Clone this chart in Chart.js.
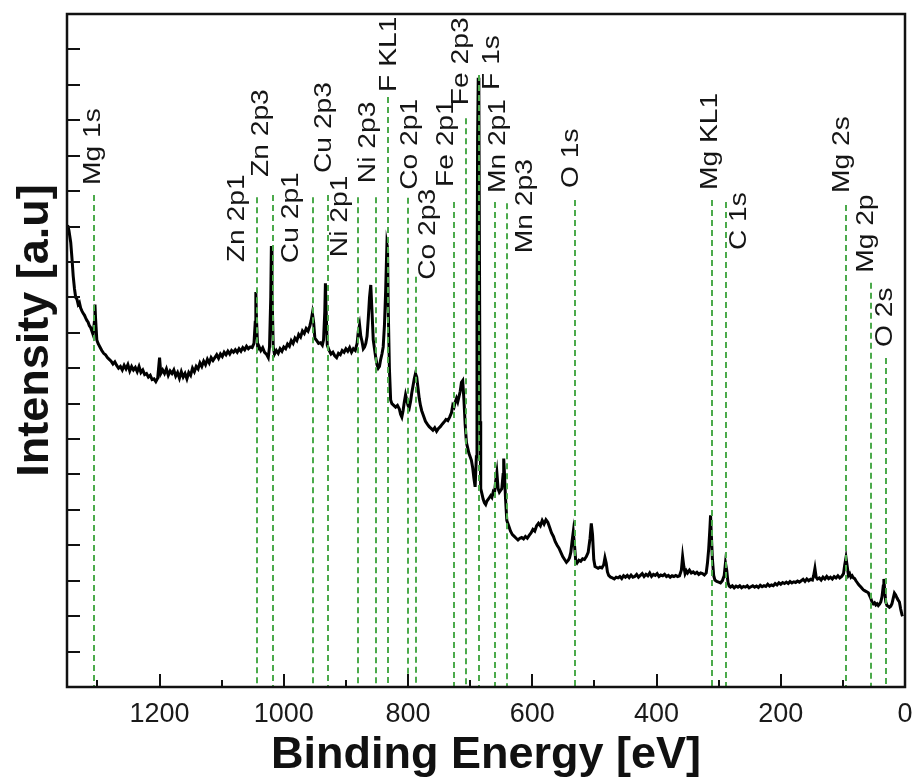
<!DOCTYPE html>
<html>
<head>
<meta charset="utf-8">
<script src="https://cdn.jsdelivr.net/npm/chart.js@4.4.0/dist/chart.umd.min.js"></script>
<style>
  html, body { margin: 0; padding: 0; background: #fff; }
  #wrap { width: 915px; height: 780px; }
</style>
</head>
<body>
<div id="wrap"><canvas id="xpsChart" width="915" height="780"></canvas></div>
<script>
// survey spectrum (binding energy in eV, intensity in arbitrary units)
const bindingEnergy = [
  1348, 1346, 1343, 1341, 1339, 1337, 1335, 1333, 1331, 1329, 1327, 1325, 1323, 1321, 1319, 1317, 1315, 1313, 1311, 1309,
  1307, 1305, 1304, 1303, 1301, 1299, 1296, 1293, 1290, 1287, 1284, 1281, 1278, 1275, 1272, 1269, 1266, 1263, 1260, 1257,
  1254, 1251, 1248, 1245, 1242, 1239, 1236, 1233, 1230, 1227, 1224, 1221, 1218, 1215, 1212, 1209, 1206, 1203, 1200, 1198,
  1195, 1192, 1189, 1186, 1183, 1180, 1177, 1174, 1171, 1168, 1165, 1162, 1159, 1156, 1153, 1150, 1147, 1144, 1141, 1138,
  1135, 1132, 1129, 1126, 1123, 1120, 1117, 1114, 1111, 1108, 1105, 1102, 1099, 1096, 1093, 1090, 1087, 1084, 1081, 1078,
  1075, 1072, 1069, 1066, 1063, 1060, 1057, 1054, 1051, 1048, 1046, 1045, 1044, 1042, 1040, 1037, 1034, 1031, 1028, 1025,
  1023, 1021, 1020, 1019, 1017, 1015, 1012, 1009, 1006, 1003, 1000, 997, 994, 991, 988, 985, 982, 979, 976, 973,
  970, 967, 964, 961, 958, 956, 954, 952, 950, 947, 944, 941, 938, 936, 934, 933, 932, 930, 927, 924,
  921, 918, 915, 912, 909, 906, 903, 900, 897, 894, 891, 888, 885, 882, 880, 878, 876, 874, 872, 870,
  868, 866, 864, 862, 860, 858, 856, 854, 852, 850, 848, 846, 844, 842, 840, 838, 836, 834, 833, 832,
  830, 828, 826, 823, 820, 817, 814, 812, 810, 808, 806, 804, 802, 800, 798, 796, 794, 792, 790, 788,
  786, 784, 782, 780, 778, 775, 772, 769, 766, 763, 760, 757, 754, 751, 748, 745, 742, 739, 736, 733,
  730, 728, 726, 724, 722, 720, 718, 716, 714, 712, 710, 708, 706, 704, 702, 700, 698, 696, 694, 692,
  690, 689, 688, 687, 686, 685, 684, 683, 681, 679, 677, 675, 673, 671, 669, 667, 665, 663, 661, 659,
  657, 655, 653, 651, 649, 647, 646, 645, 643, 641, 638, 635, 632, 629, 626, 623, 620, 617, 614, 611,
  608, 605, 602, 599, 596, 593, 590, 587, 584, 581, 578, 575, 572, 569, 566, 563, 560, 557, 554, 551,
  548, 545, 542, 540, 538, 536, 534, 532, 530, 528, 525, 522, 519, 516, 513, 510, 507, 505, 503, 501,
  499, 497, 494, 491, 488, 485, 483, 481, 479, 477, 474, 471, 468, 465, 462, 459, 456, 453, 450, 447,
  444, 441, 438, 435, 432, 429, 426, 423, 420, 417, 414, 411, 408, 405, 402, 399, 396, 393, 390, 387,
  384, 381, 378, 375, 372, 369, 366, 363, 360, 358, 356, 354, 352, 350, 347, 344, 341, 338, 335, 332,
  329, 326, 323, 320, 318, 316, 314, 313, 312, 310, 308, 306, 303, 300, 297, 294, 291, 289, 287, 285,
  283, 281, 278, 275, 272, 269, 266, 263, 260, 257, 254, 251, 248, 245, 242, 239, 236, 233, 230, 227,
  224, 221, 218, 215, 212, 209, 206, 203, 200, 197, 194, 191, 188, 185, 182, 179, 176, 173, 170, 167,
  164, 161, 158, 155, 152, 149, 147, 145, 143, 141, 138, 135, 132, 129, 126, 123, 120, 117, 114, 111,
  108, 105, 102, 99, 97, 95, 93, 91, 89, 87, 85, 83, 81, 79, 77, 75, 73, 71, 69, 67,
  65, 63, 61, 59, 57, 55, 53, 51, 49, 47, 45, 43, 41, 39, 37, 35, 34, 33, 31, 29,
  27, 25, 23, 21, 19, 17, 15, 13, 11, 9, 7, 5, 4
];
const intensity = [
  13.04, 12.90, 12.55, 12.10, 11.60, 11.25, 11.00, 10.95, 10.80, 10.85, 10.70, 10.62, 10.55, 10.50, 10.42, 10.35, 10.30, 10.20, 10.15, 10.05,
  9.95, 10.30, 10.80, 10.40, 9.80, 9.70, 9.60, 9.50, 9.42, 9.38, 9.30, 9.25, 9.20, 9.12, 9.18, 9.08, 9.00, 9.05, 8.95, 9.08,
  8.98, 9.10, 8.92, 9.05, 8.95, 9.02, 8.90, 9.05, 8.88, 8.95, 8.82, 8.85, 8.75, 8.80, 8.68, 8.70, 8.62, 8.72, 9.30, 8.85,
  8.95, 8.85, 8.98, 8.80, 8.92, 8.85, 8.95, 8.78, 8.88, 8.72, 8.90, 8.75, 8.85, 8.70, 8.88, 8.80, 9.00, 8.90, 9.05, 8.98,
  9.15, 9.05, 9.20, 9.10, 9.25, 9.15, 9.30, 9.22, 9.30, 9.38, 9.28, 9.40, 9.33, 9.45, 9.38, 9.48, 9.40, 9.50, 9.45, 9.52,
  9.45, 9.55, 9.48, 9.58, 9.52, 9.62, 9.55, 9.60, 9.58, 9.70, 10.30, 11.15, 10.40, 9.55, 9.62, 9.50, 9.58, 9.45, 9.40, 9.30,
  9.60, 11.00, 12.45, 11.20, 9.60, 9.40, 9.50, 9.42, 9.55, 9.48, 9.60, 9.55, 9.68, 9.62, 9.78, 9.70, 9.85, 9.78, 9.95, 9.88,
  10.05, 9.98, 10.12, 10.05, 10.20, 10.35, 10.55, 10.30, 9.85, 9.78, 9.70, 9.72, 9.65, 9.80, 10.60, 11.40, 10.70, 9.65, 9.50, 9.40,
  9.45, 9.35, 9.30, 9.42, 9.38, 9.50, 9.45, 9.55, 9.48, 9.58, 9.45, 9.55, 9.50, 9.70, 10.05, 10.22, 9.90, 9.75, 9.55, 9.60,
  9.70, 9.90, 10.40, 11.00, 11.35, 10.60, 9.80, 9.55, 9.30, 9.10, 9.00, 9.05, 9.25, 9.40, 9.60, 10.20, 11.20, 12.50, 12.40, 10.80,
  9.00, 8.10, 8.00, 7.95, 7.90, 7.95, 7.85, 7.70, 7.62, 7.80, 8.05, 8.25, 8.10, 7.95, 7.88, 8.05, 8.30, 8.50, 8.70, 8.85,
  8.75, 8.45, 8.15, 7.95, 7.80, 7.65, 7.50, 7.42, 7.35, 7.30, 7.25, 7.32, 7.22, 7.30, 7.35, 7.42, 7.48, 7.55, 7.52, 7.62,
  7.75, 7.95, 7.90, 8.05, 8.15, 8.05, 8.20, 8.35, 8.60, 8.65, 8.10, 7.40, 6.90, 6.75, 6.60, 6.50, 6.40, 6.20, 5.90, 5.65,
  6.50, 10.50, 15.50, 17.20, 16.80, 12.00, 7.50, 5.60, 5.45, 5.30, 5.20, 5.15, 5.25, 5.30, 5.35, 5.40, 5.35, 5.50, 5.45, 5.80,
  6.05, 5.60, 5.50, 5.55, 5.60, 6.00, 6.45, 6.10, 5.30, 4.70, 4.55, 4.40, 4.30, 4.25, 4.20, 4.15, 4.20, 4.22, 4.18, 4.25,
  4.20, 4.28, 4.35, 4.45, 4.40, 4.55, 4.62, 4.55, 4.70, 4.60, 4.72, 4.65, 4.50, 4.35, 4.25, 4.10, 4.00, 3.92, 3.80, 3.68,
  3.60, 3.52, 3.58, 3.65, 3.80, 4.10, 4.38, 4.00, 3.55, 3.50, 3.58, 3.55, 3.62, 3.60, 3.68, 3.80, 4.20, 4.62, 4.30, 3.60,
  3.40, 3.38, 3.35, 3.38, 3.36, 3.45, 3.65, 3.50, 3.25, 3.15, 3.10, 3.08, 3.05, 3.10, 3.08, 3.12, 3.06, 3.14, 3.10, 3.15,
  3.09, 3.16, 3.10, 3.12, 3.18, 3.10, 3.15, 3.20, 3.12, 3.18, 3.14, 3.22, 3.12, 3.18, 3.15, 3.20, 3.12, 3.16, 3.14, 3.18,
  3.12, 3.15, 3.10, 3.14, 3.12, 3.15, 3.12, 3.14, 3.30, 3.68, 3.40, 3.20, 3.28, 3.22, 3.30, 3.22, 3.25, 3.20, 3.24, 3.18,
  3.22, 3.20, 3.16, 3.22, 3.50, 3.90, 4.50, 4.85, 4.40, 3.60, 3.15, 3.02, 2.98, 2.96, 2.94, 3.00, 3.15, 3.50, 3.30, 2.95,
  2.85, 2.82, 2.86, 2.80, 2.85, 2.82, 2.86, 2.80, 2.84, 2.82, 2.86, 2.80, 2.83, 2.86, 2.82, 2.85, 2.81, 2.87, 2.83, 2.86,
  2.84, 2.90, 2.85, 2.88, 2.86, 2.92, 2.88, 2.94, 2.90, 2.95, 2.92, 2.96, 2.92, 2.98, 2.94, 2.97, 2.95, 2.99, 2.96, 3.00,
  3.04, 2.98, 3.05, 3.00, 3.04, 3.02, 3.15, 3.35, 3.10, 3.05, 3.08, 3.02, 3.10, 3.05, 3.12, 3.06, 3.10, 3.05, 3.12, 3.08,
  3.14, 3.08, 3.12, 3.20, 3.45, 3.65, 3.40, 3.15, 3.20, 3.10, 3.14, 3.08, 3.06, 3.00, 2.95, 2.90, 2.86, 2.82, 2.78, 2.74,
  2.72, 2.70, 2.68, 2.66, 2.58, 2.50, 2.40, 2.35, 2.38, 2.32, 2.35, 2.30, 2.34, 2.40, 2.55, 2.85, 3.05, 2.80, 2.40, 2.30,
  2.28, 2.25, 2.28, 2.35, 2.50, 2.65, 2.60, 2.52, 2.45, 2.40, 2.20, 2.05, 2.00
];

// peak assignments: label, position (eV) and the height where each marker line starts
const peakLabels = ['Mg 1s', 'Zn 2p1', 'Zn 2p3', 'Cu 2p1', 'Cu 2p3', 'Ni 2p1', 'Ni 2p3', 'F KL1', 'Co 2p1', 'Co 2p3',
  'Fe 2p1', 'Fe 2p3', 'F 1s', 'Mn 2p1', 'Mn 2p3', 'O 1s', 'Mg KL1', 'C 1s', 'Mg 2s', 'Mg 2p', 'O 2s'];
const peakEnergy = [1305, 1043, 1018, 953, 929, 881, 851, 832, 800, 787, 726, 707, 686, 660, 641, 532, 310, 288, 95, 54, 31];
const peakTop = [13.89, 13.83, 13.89, 13.83, 13.89, 13.83, 13.83, 16.66, 13.81, 11.58, 13.69, 16.06, 17.28, 13.69, 13.66,
  13.75, 13.75, 13.69, 13.61, 11.41, 9.29];

// where each label sits relative to the top of its marker line (px)
const labelShift = [[-1, -10], [-20, 65], [-11, -18], [-21, 66], [-3, -22], [-17, 60], [-8, -14], [1, -5], [2, -8], [12, 3],
  [-7, -15], [-4, -13], [14, 15], [4, -9], [19, 50], [-3, -12], [-2, -10], [13, 48], [-3, -12], [-5, -10], [0, -11]];

const FONT = '"Liberation Sans", Arial, sans-serif';

const xpsDecor = {
    id: 'xpsDecor',
    afterDatasetsDraw(chart) {
        const ctx = chart.ctx;
        const area = chart.chartArea;
        const xs = chart.scales.x;
        const ys = chart.scales.y;

        ctx.save();
        ctx.strokeStyle = '#4caa4c';
        ctx.lineWidth = 2;
        ctx.setLineDash([6, 4]);
        peakEnergy.forEach((e, i) => {
            const px = Math.round(xs.getPixelForValue(e));
            ctx.beginPath();
            ctx.moveTo(px, ys.getPixelForValue(peakTop[i]));
            ctx.lineTo(px, area.bottom);
            ctx.stroke();
        });
        ctx.setLineDash([]);

        ctx.fillStyle = '#151515';
        ctx.font = '23.5px ' + FONT;
        ctx.textAlign = 'left';
        ctx.textBaseline = 'middle';
        peakLabels.forEach((t, i) => {
            const px = xs.getPixelForValue(peakEnergy[i]) + labelShift[i][0];
            const py = ys.getPixelForValue(peakTop[i]) + labelShift[i][1];
            ctx.save();
            ctx.translate(px, py);
            ctx.rotate(-Math.PI / 2);
            ctx.scale(1.2, 1);
            ctx.fillText(t, 0, 0);
            ctx.restore();
        });
        ctx.restore();
    },
    afterDraw(chart) {
        const ctx = chart.ctx;
        const area = chart.chartArea;
        const xs = chart.scales.x;
        const ys = chart.scales.y;

        ctx.save();
        ctx.strokeStyle = '#111';
        ctx.lineWidth = 2;
        // inward tick marks
        xs.ticks.forEach(t => {
            if (t.value % 100 !== 0) return;
            const px = Math.round(xs.getPixelForValue(t.value));
            const len = t.value % 200 === 0 ? 13 : 7;
            ctx.beginPath();
            ctx.moveTo(px, area.bottom);
            ctx.lineTo(px, area.bottom - len);
            ctx.stroke();
        });
        ys.ticks.forEach(t => {
            const py = Math.round(ys.getPixelForValue(t.value));
            ctx.beginPath();
            ctx.moveTo(area.left, py);
            ctx.lineTo(area.left + 13, py);
            ctx.stroke();
        });
        // frame
        ctx.lineWidth = 2.5;
        ctx.strokeRect(area.left, area.top, area.right - area.left, area.bottom - area.top);

        // axis titles
        ctx.fillStyle = '#111';
        ctx.font = 'bold 45px ' + FONT;
        ctx.textAlign = 'center';
        ctx.textBaseline = 'alphabetic';
        ctx.fillText('Binding Energy [eV]', (area.left + area.right) / 2, 768);
        ctx.translate(48, (area.top + area.bottom) / 2 - 20);
        ctx.rotate(-Math.PI / 2);
        ctx.fillText('Intensity [a.u]', 0, 0);
        ctx.restore();
    }
};

function CreateChart() {
    const points = bindingEnergy.map((e, i) => ({ x: e, y: intensity[i] }));

    new Chart(document.getElementById('xpsChart'), {
        type: 'line',
        data: {
            datasets: [{
                label: 'XPS survey',
                data: points,
                borderColor: '#000',
                borderWidth: 3,
                pointRadius: 0,
                tension: 0,
                fill: false,
            }]
        },
        options: {
            responsive: false,
            animation: false,
            layout: { padding: { top: 14, right: 10, left: 0, bottom: 0 } },
            plugins: {
                legend: { display: false },
                tooltip: { enabled: false },
            },
            scales: {
                x: {
                    type: 'linear',
                    reverse: true,
                    min: 0,
                    max: 1349,
                    grid: { display: false, drawTicks: false },
                    border: { display: false },
                    ticks: {
                        stepSize: 100,
                        includeBounds: false,
                        autoSkip: false,
                        maxRotation: 0,
                        padding: 11,
                        color: '#1a1a1a',
                        font: { family: FONT, size: 27 },
                        callback: v => (v % 200 === 0 ? v : ''),
                    },
                    afterFit(scale) {
                        scale.height = 93;
                        scale.paddingLeft = 0;
                        scale.paddingRight = 0;
                    },
                },
                y: {
                    min: 0,
                    max: 19,
                    grid: { display: false, drawTicks: false },
                    border: { display: false },
                    ticks: { display: false, stepSize: 1 },
                    afterFit(scale) { scale.width = 67; },
                }
            }
        },
        plugins: [xpsDecor]
    });
}

CreateChart();
</script>
</body>
</html>
